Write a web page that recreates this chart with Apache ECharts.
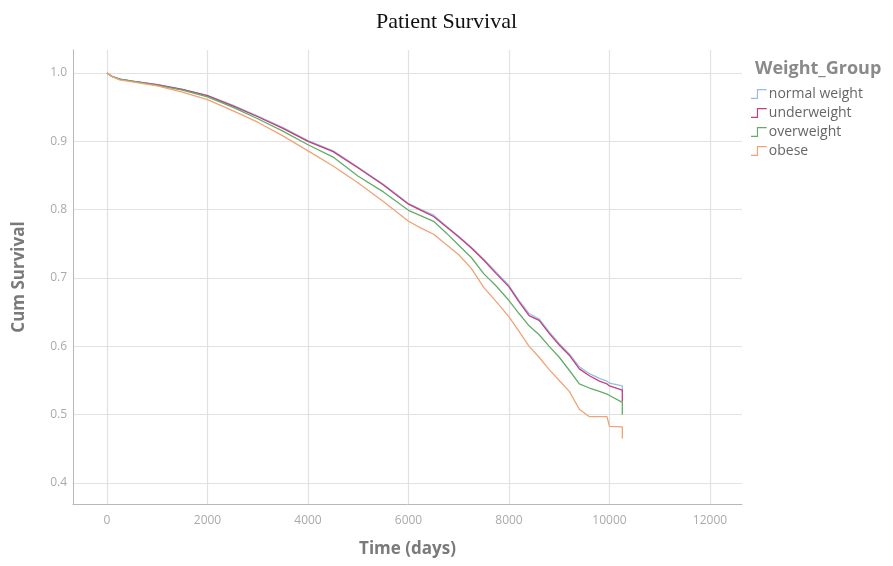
<!DOCTYPE html>
<html>
<head>
<meta charset="utf-8">
<title>Patient Survival</title>
<script src="https://cdn.jsdelivr.net/npm/echarts@6/dist/echarts.min.js"></script>
<style>
  html, body { margin: 0; padding: 0; background: #fff; }
  #main { width: 893px; height: 566px; }
</style>
</head>
<body>
<div id="main"></div>
<script>
// time points (days); the last two are the final drop
const times = [0, 100, 250, 500, 1000, 1500, 2000, 2500, 3000, 3500, 4000, 4500, 5000, 5500, 6000, 6250, 6500, 6750, 7000, 7250, 7500, 7750, 8000, 8200, 8400, 8600, 8800, 9000, 9200, 9400, 9600, 9800, 9950, 10000, 10255, 10255]

const normalWeight = [1.0, 0.995, 0.991, 0.988, 0.983, 0.976, 0.967, 0.953, 0.937, 0.920, 0.901, 0.886, 0.862, 0.837, 0.809, 0.800, 0.792, 0.776, 0.761, 0.745, 0.727, 0.708, 0.689, 0.667, 0.648, 0.640, 0.621, 0.604, 0.589, 0.570, 0.560, 0.553, 0.549, 0.546, 0.542, 0.533]
const underweight = [1.0, 0.995, 0.991, 0.988, 0.983, 0.976, 0.967, 0.952, 0.936, 0.919, 0.900, 0.885, 0.861, 0.836, 0.808, 0.799, 0.790, 0.775, 0.760, 0.744, 0.726, 0.706, 0.687, 0.665, 0.645, 0.638, 0.619, 0.602, 0.587, 0.567, 0.557, 0.549, 0.545, 0.542, 0.536, 0.519]
const overweight = [1.0, 0.995, 0.991, 0.988, 0.982, 0.975, 0.965, 0.950, 0.933, 0.915, 0.895, 0.877, 0.849, 0.826, 0.799, 0.791, 0.783, 0.766, 0.748, 0.730, 0.706, 0.688, 0.667, 0.648, 0.630, 0.617, 0.600, 0.584, 0.565, 0.545, 0.539, 0.534, 0.530, 0.528, 0.518, 0.500]
const obese = [1.0, 0.995, 0.990, 0.987, 0.981, 0.972, 0.961, 0.945, 0.928, 0.908, 0.886, 0.864, 0.839, 0.812, 0.783, 0.773, 0.764, 0.749, 0.734, 0.714, 0.686, 0.665, 0.643, 0.622, 0.600, 0.584, 0.566, 0.550, 0.534, 0.508, 0.497, 0.497, 0.497, 0.483, 0.482, 0.465]

const groupNames = ['normal weight', 'underweight', 'overweight', 'obese']
const groupData = [normalWeight, underweight, overweight, obese]
const groupColors = ['#96bde6', '#c43e7c', '#62ad66', '#f2a277']

const xTicks = [0, 12000, 2000] // min, max, interval
const yTicks = [0.4, 1.0, 0.1]

const chart = echarts.init(document.getElementById('main'))

const stepIcon = 'path://M0,9 L6,9 L6,0 L16,0 L16,1.2 L7.2,1.2 L7.2,10.2 L0,10.2 Z'

const hidden = { show: false }
const option = {
    animation: false,
    title: [
        {
            text: 'Patient Survival',
            left: 'center',
            top: 6,
            textStyle: { fontFamily: 'Liberation Serif', fontSize: 22, fontWeight: 'normal', color: '#111' },
        },
        {
            text: 'Weight_Group',
            left: 750,
            top: 55,
            textStyle: { fontFamily: 'Open Sans', fontSize: 18, fontWeight: 'bold', color: '#8a8a8a' },
        },
    ],
    legend: {
        orient: 'vertical',
        left: 746,
        top: 82,
        itemWidth: 16,
        itemHeight: 10,
        itemGap: 5,
        icon: stepIcon,
        data: groupNames,
        textStyle: { fontFamily: 'Open Sans', fontSize: 14, color: '#666', padding: [0, 0, 0, -3] },
    },
    grid: [
        // outer frame with the axis lines
        { left: 73, right: 151, top: 50, bottom: 62 },
        // x ticks / vertical grid lines
        { left: 107, right: 183, top: 50, bottom: 62 },
        // y ticks / horizontal grid lines
        { left: 73, right: 151, top: 73, bottom: 83 },
        // data area
        { left: 107, right: 183, top: 73, bottom: 83 },
    ],
    xAxis: [
        {
            gridIndex: 0, type: 'value', min: 0, max: 1,
            axisLine: { show: true, lineStyle: { color: '#b8b8b8' } },
            axisTick: hidden, axisLabel: hidden, splitLine: hidden,
            name: 'Time (days)', nameLocation: 'middle', nameGap: 37,
            nameTextStyle: { fontFamily: 'Open Sans', fontSize: 17, fontWeight: 'bold', color: '#7a7a7a' },
        },
        {
            gridIndex: 1, type: 'value', min: xTicks[0], max: xTicks[1], interval: xTicks[2],
            axisLine: hidden, axisTick: hidden,
            axisLabel: { color: '#aaa', fontFamily: 'Open Sans', fontSize: 12, margin: 11, formatter: (v) => String(v) },
            splitLine: { show: true, lineStyle: { color: '#e2e2e2', width: 1.2 } },
        },
        { gridIndex: 2, type: 'value', min: 0, max: 1, show: false },
        { gridIndex: 3, type: 'value', min: xTicks[0], max: xTicks[1], show: false },
    ],
    yAxis: [
        {
            gridIndex: 0, type: 'value', min: 0, max: 1,
            axisLine: { show: true, lineStyle: { color: '#b8b8b8' } },
            axisTick: hidden, axisLabel: hidden, splitLine: hidden,
            name: 'Cum Survival', nameLocation: 'middle', nameGap: 45,
            nameTextStyle: { fontFamily: 'Open Sans', fontSize: 17, fontWeight: 'bold', color: '#7a7a7a' },
        },
        { gridIndex: 1, type: 'value', min: 0, max: 1, show: false },
        {
            gridIndex: 2, type: 'value', min: yTicks[0], max: yTicks[1], interval: yTicks[2],
            axisLine: hidden, axisTick: hidden,
            axisLabel: { color: '#aaa', fontFamily: 'Open Sans', fontSize: 12, margin: 6, formatter: (v) => v.toFixed(1) },
            splitLine: { show: true, lineStyle: { color: '#e2e2e2', width: 1.2 } },
        },
        { gridIndex: 3, type: 'value', min: yTicks[0], max: yTicks[1], show: false },
    ],
    series: groupNames.map((name, i) => ({
        name: name,
        type: 'line',
        xAxisIndex: 3,
        yAxisIndex: 3,
        showSymbol: false,
        symbol: 'none',
        clip: false,
        color: groupColors[i],
        lineStyle: { width: 1.3, color: groupColors[i] },
        data: times.map((t, j) => [t, groupData[i][j]]),
    })),
}
option && chart.setOption(option)
</script>
</body>
</html>
